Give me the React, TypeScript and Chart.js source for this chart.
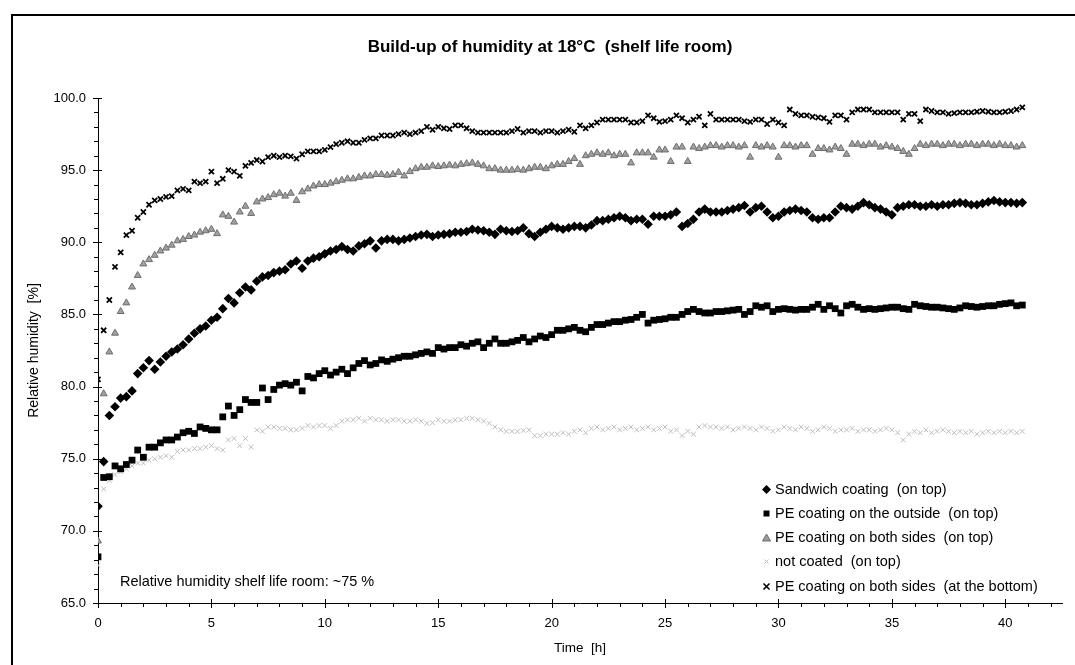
import React, { useEffect, useRef } from 'react';
import { Chart, registerables } from 'chart.js';

Chart.register(...registerables);

// ---------- data (time in hours, relative humidity in %) ----------
const times = [
  0, 0.25, 0.5, 0.75, 1, 1.25, 1.5, 1.75, 2, 2.25, 2.5, 2.75, 3, 3.25, 3.5, 3.75,
  4, 4.25, 4.5, 4.75, 5, 5.25, 5.5, 5.75, 6, 6.25, 6.5, 6.75, 7, 7.25, 7.5, 7.75,
  8, 8.25, 8.5, 8.75, 9, 9.25, 9.5, 9.75, 10, 10.25, 10.5, 10.75, 11, 11.25, 11.5, 11.75,
  12, 12.25, 12.5, 12.75, 13, 13.25, 13.5, 13.75, 14, 14.25, 14.5, 14.75, 15, 15.25, 15.5, 15.75,
  16, 16.25, 16.5, 16.75, 17, 17.25, 17.5, 17.75, 18, 18.25, 18.5, 18.75, 19, 19.25, 19.5, 19.75,
  20, 20.25, 20.5, 20.75, 21, 21.25, 21.5, 21.75, 22, 22.25, 22.5, 22.75, 23, 23.25, 23.5, 23.75,
  24, 24.25, 24.5, 24.75, 25, 25.25, 25.5, 25.75, 26, 26.25, 26.5, 26.75, 27, 27.25, 27.5, 27.75,
  28, 28.25, 28.5, 28.75, 29, 29.25, 29.5, 29.75, 30, 30.25, 30.5, 30.75, 31, 31.25, 31.5, 31.75,
  32, 32.25, 32.5, 32.75, 33, 33.25, 33.5, 33.75, 34, 34.25, 34.5, 34.75, 35, 35.25, 35.5, 35.75,
  36, 36.25, 36.5, 36.75, 37, 37.25, 37.5, 37.75, 38, 38.25, 38.5, 38.75, 39, 39.25, 39.5, 39.75,
  40, 40.25, 40.5, 40.75,
];

const sandwichOnTop = [
  71.7, 74.8, 78.0, 78.6, 79.2, 79.3, 79.7, 80.9, 81.3, 81.8, 81.2, 81.7, 82.1, 82.4, 82.6, 82.9,
  83.3, 83.7, 84.0, 84.2, 84.6, 84.8, 85.4, 86.1, 85.8, 86.5, 86.9, 86.7, 87.3, 87.6, 87.7, 87.9,
  88.0, 88.1, 88.5, 88.7, 88.2, 88.7, 88.9, 89.0, 89.2, 89.4, 89.5, 89.7, 89.5, 89.4, 89.75, 89.9,
  90.1, 89.6, 90.1, 90.2, 90.2, 90.1, 90.2, 90.3, 90.4, 90.5, 90.55, 90.4, 90.5, 90.55, 90.6, 90.7,
  90.7, 90.75, 90.9, 90.85, 90.8, 90.7, 90.55, 90.9, 90.8, 90.75, 90.8, 91.0, 90.6, 90.4, 90.7, 90.9,
  91.1, 91.0, 90.9, 91.0, 91.1, 91.1, 91.0, 91.2, 91.5, 91.5, 91.6, 91.7, 91.8, 91.7, 91.5, 91.6,
  91.6, 91.25, 91.8, 91.8, 91.8, 91.9, 92.1, 91.1, 91.3, 91.6, 92.1, 92.3, 92.1, 92.1, 92.1, 92.2,
  92.3, 92.4, 92.55, 92.1, 92.4, 92.5, 92.1, 91.7, 91.8, 92.1, 92.2, 92.3, 92.2, 92.1, 91.7, 91.6,
  91.7, 91.7, 92.1, 92.5, 92.4, 92.3, 92.5, 92.75, 92.6, 92.4, 92.3, 92.1, 91.9, 92.4, 92.5, 92.6,
  92.6, 92.5, 92.5, 92.6, 92.5, 92.6, 92.6, 92.7, 92.75, 92.7, 92.6, 92.6, 92.7, 92.8, 92.9, 92.8,
  92.75, 92.75, 92.7, 92.75,
];

const peOutsideOnTop = [
  68.2, 73.7, 73.75, 74.5, 74.3, 74.6, 74.9, 75.6, 75.1, 75.8, 75.8, 76.1, 76.3, 76.3, 76.5, 76.8,
  76.9, 76.75, 77.2, 77.1, 77.0, 77.0, 77.9, 78.65, 78.0, 78.4, 79.1, 78.9, 78.9, 79.9, 79.1, 79.8,
  80.1, 80.2, 80.1, 80.3, 79.7, 80.7, 80.6, 80.9, 81.1, 80.8, 81.0, 81.2, 80.9, 81.3, 81.6, 81.8,
  81.5, 81.6, 81.85, 81.75, 81.9, 82.0, 82.1, 82.1, 82.2, 82.3, 82.4, 82.3, 82.7, 82.6, 82.7, 82.7,
  82.9, 82.8, 83.0, 83.1, 82.7, 83.0, 83.3, 83.0, 83.0, 83.1, 83.2, 83.4, 83.1, 83.3, 83.5, 83.4,
  83.6, 83.9, 83.9, 84.0, 84.1, 83.9, 83.8, 84.1, 84.3, 84.3, 84.4, 84.5, 84.5, 84.6, 84.65, 84.8,
  85.0, 84.4, 84.6, 84.65, 84.7, 84.8, 84.8, 85.0, 85.2, 85.35, 85.2, 85.1, 85.1, 85.2, 85.2, 85.25,
  85.3, 85.35, 85.0, 85.2, 85.6, 85.5, 85.6, 85.2, 85.35, 85.4, 85.35, 85.3, 85.35, 85.35, 85.5, 85.7,
  85.35, 85.6, 85.4, 85.1, 85.6, 85.7, 85.5, 85.35, 85.4, 85.35, 85.4, 85.45, 85.5, 85.5, 85.4, 85.35,
  85.7, 85.6, 85.55, 85.5, 85.5, 85.45, 85.4, 85.35, 85.45, 85.6, 85.55, 85.5, 85.55, 85.6, 85.6, 85.7,
  85.75, 85.8, 85.6, 85.65,
];

const peBothSidesOnTop = [
  69.3, 79.5, 82.4, 83.7, 85.2, 85.8, 86.9, 87.7, 88.5, 88.8, 89.1, 89.4, 89.6, 89.8, 90.1, 90.2,
  90.4, 90.5, 90.7, 90.8, 90.9, 90.6, 91.9, 91.8, 91.4, 92.1, 92.5, 92.0, 92.8, 93.0, 93.1, 93.3,
  93.4, 93.2, 93.4, 92.9, 93.5, 93.7, 93.9, 94.0, 94.0, 94.1, 94.2, 94.3, 94.4, 94.4, 94.5, 94.6,
  94.6, 94.7, 94.7, 94.65, 94.7, 94.85, 94.6, 94.9, 95.1, 95.2, 95.2, 95.3, 95.25, 95.3, 95.35, 95.3,
  95.4, 95.45, 95.5, 95.4, 95.3, 95.1, 95.1, 95.0, 95.0, 95.0, 95.05, 95.0, 95.1, 95.2, 95.2, 95.1,
  95.3, 95.4, 95.4, 95.6, 95.8, 95.4, 96.0, 96.1, 96.2, 96.1, 96.2, 96.0, 96.1, 96.1, 95.5, 96.2,
  96.2, 96.2, 95.9, 96.4, 96.4, 95.6, 96.6, 96.6, 95.6, 96.6, 96.5, 96.6, 96.7, 96.7, 96.6, 96.7,
  96.7, 96.6, 96.7, 95.9, 96.7, 96.6, 96.7, 96.6, 95.9, 96.7, 96.7, 96.6, 96.7, 96.7, 96.1, 96.5,
  96.5, 96.4, 96.6, 96.5, 96.1, 96.8, 96.8, 96.7, 96.8, 96.8, 96.6, 96.7, 96.6, 96.5, 96.3, 96.1,
  96.5, 96.8, 96.7, 96.8, 96.8, 96.7, 96.8, 96.8, 96.7, 96.8, 96.8, 96.7, 96.8, 96.8, 96.7, 96.8,
  96.7, 96.7, 96.6, 96.7,
];

const notCoatedOnTop = [
  67.6, 72.9, 73.5, 73.9, 74.1, 74.3, 74.5, 74.7, 74.7, 74.9, 75.0, 75.1, 75.2, 75.1, 75.5, 75.6,
  75.6, 75.7, 75.7, 75.8, 75.9, 75.7, 75.6, 76.3, 76.4, 75.9, 76.4, 75.8, 77.0, 76.9, 77.2, 77.2,
  77.1, 77.1, 77.0, 77.0, 77.1, 77.3, 77.2, 77.3, 77.3, 77.1, 77.3, 77.6, 77.7, 77.7, 77.8, 77.6,
  77.8, 77.7, 77.7, 77.6, 77.7, 77.7, 77.6, 77.6, 77.7, 77.6, 77.45, 77.5, 77.7, 77.6, 77.6, 77.7,
  77.7, 77.8, 77.8, 77.7, 77.6, 77.45, 77.2, 77.0, 76.9, 76.9, 76.9, 76.95, 77.0, 76.6, 76.6, 76.7,
  76.7, 76.7, 76.8, 76.7, 76.9, 77.0, 76.8, 77.1, 77.2, 77.0, 77.1, 77.2, 77.0, 77.1, 77.2, 77.0,
  77.1, 77.2, 77.0, 77.1, 77.2, 76.9, 77.0, 76.6, 76.9, 76.7, 77.2, 77.3, 77.2, 77.2, 77.1, 77.2,
  77.0, 77.1, 77.2, 77.1, 77.0, 77.2, 77.1, 76.9, 77.0, 77.2, 77.1, 77.0, 77.2, 77.1, 76.9, 77.0,
  77.2, 77.1, 76.9, 77.0, 77.0, 77.1, 76.9, 77.0, 77.0, 76.9, 77.0, 77.1, 77.0, 76.8, 76.3, 76.7,
  76.9, 76.8, 77.0, 76.8, 76.9, 77.0, 76.9, 76.8, 76.9, 76.8, 76.9, 76.7, 76.8, 76.9, 76.8, 76.9,
  76.8, 76.9, 76.8, 76.9,
];

const peBothSidesBottom = [
  80.5, 83.9, 86.0, 88.3, 89.3, 90.5, 90.8, 91.7, 92.1, 92.6, 92.9, 93.0, 93.15, 93.2, 93.6, 93.7,
  93.6, 94.2, 94.1, 94.2, 94.9, 94.1, 94.4, 95.0, 94.9, 94.6, 95.3, 95.5, 95.7, 95.6, 95.9, 96.0,
  95.9, 96.0, 95.95, 95.8, 96.1, 96.3, 96.3, 96.3, 96.4, 96.6, 96.8, 96.9, 97.0, 96.9, 96.9, 97.1,
  97.2, 97.2, 97.4, 97.4, 97.4, 97.5, 97.6, 97.5, 97.6, 97.7, 98.0, 97.8, 98.0, 97.9, 97.85, 98.1,
  98.1, 97.9, 97.7, 97.6, 97.6, 97.6, 97.6, 97.6, 97.6, 97.7, 97.85, 97.6, 97.7, 97.7, 97.6, 97.7,
  97.7, 97.6, 97.7, 97.8, 97.66, 98.1, 97.9, 98.1, 98.3, 98.5, 98.5, 98.5, 98.5, 98.5, 98.3, 98.3,
  98.4, 98.8, 98.6, 98.35, 98.4, 98.5, 98.8, 98.6, 98.3, 98.5, 98.7, 98.1, 98.9, 98.5, 98.5, 98.5,
  98.5, 98.5, 98.4, 98.35, 98.5, 98.5, 98.2, 98.5, 98.3, 98.1, 99.2, 98.9, 98.8, 98.8, 98.7, 98.65,
  98.6, 98.35, 98.8, 98.8, 98.5, 99.0, 99.2, 99.2, 99.2, 99.0, 99.0, 99.0, 99.0, 99.0, 98.5, 98.9,
  98.9, 98.4, 99.2, 99.1, 99.0, 99.0, 98.9, 98.95, 99.0, 99.0, 99.0, 99.05, 99.1, 99.05, 99.0, 99.0,
  99.05, 99.1, 99.2, 99.35,
];

const seriesLabels = [
  'Sandwich coating  (on top)',
  'PE coating on the outside  (on top)',
  'PE coating on both sides  (on top)',
  'not coated  (on top)',
  'PE coating on both sides  (at the bottom)',
];

const titleText = 'Build-up of humidity at 18°C  (shelf life room)';
const xTitle = 'Time  [h]';
const yTitle = 'Relative humidity  [%]';
const noteText = 'Relative humidity shelf life room: ~75 %';

const FONT = "'Liberation Sans', Arial, sans-serif";

const tickMarks = {
  id: 'tickMarks',
  afterDraw(chart: any) {
    const { ctx, chartArea, scales } = chart;
    const xs = scales.x;
    const ys = scales.y;
    ctx.save();
    ctx.strokeStyle = '#000';
    ctx.lineWidth = 1;
    ctx.beginPath();
    for (let v = Math.ceil(xs.min); v <= xs.max; v++) {
      const px = Math.round(xs.getPixelForValue(v)) + 0.5;
      if (v % 5 === 0) {
        ctx.moveTo(px, chartArea.bottom - 4);
        ctx.lineTo(px, chartArea.bottom + 5);
      } else {
        ctx.moveTo(px, chartArea.bottom);
        ctx.lineTo(px, chartArea.bottom + 4);
      }
    }
    for (let v = Math.ceil(ys.min); v <= ys.max; v++) {
      const py = Math.round(ys.getPixelForValue(v)) + 0.5;
      if (v % 5 === 0) {
        ctx.moveTo(chartArea.left - 5, py);
        ctx.lineTo(chartArea.left + 4, py);
      } else {
        ctx.moveTo(chartArea.left - 4, py);
        ctx.lineTo(chartArea.left, py);
      }
    }
    ctx.stroke();
    ctx.restore();
  },
};

function Marker({ kind }: { kind: number }) {
  const s = 9;
  let el: any = null;
  if (kind === 0) el = <polygon points="4.5,0 9,4.5 4.5,9 0,4.5" fill="#000" />;
  else if (kind === 1) el = <rect x="1.5" y="1.5" width="6" height="6" fill="#000" />;
  else if (kind === 2) el = <polygon points="4.5,1 8.5,8 0.5,8" fill="#9a9a9a" stroke="#6e6e6e" strokeWidth="1" />;
  else if (kind === 3)
    el = (
      <g stroke="#bdbdbd" strokeWidth="1">
        <line x1="2.5" y1="2.5" x2="6.5" y2="6.5" />
        <line x1="6.5" y1="2.5" x2="2.5" y2="6.5" />
      </g>
    );
  else
    el = (
      <g stroke="#000" strokeWidth="1.6">
        <line x1="1.5" y1="1.5" x2="7.5" y2="7.5" />
        <line x1="7.5" y1="1.5" x2="1.5" y2="7.5" />
      </g>
    );
  return (
    <svg width={s} height={s} style={{ display: 'block' }}>
      {el}
    </svg>
  );
}

export default function App() {
  const ref = useRef<HTMLCanvasElement>(null);

  useEffect(() => {
    if (!ref.current) return;
    const mk = (arr: number[]) => times.map((t, i) => ({ x: t, y: arr[i] }));
    const chart = new Chart(ref.current, {
      type: 'scatter',
      data: {
        datasets: [
          {
            label: seriesLabels[0],
            data: mk(sandwichOnTop),
            pointStyle: 'rectRot',
            pointRadius: 4.8,
            backgroundColor: '#000',
            borderColor: '#000',
            borderWidth: 0,
          },
          {
            label: seriesLabels[1],
            data: mk(peOutsideOnTop),
            pointStyle: 'rect',
            pointRadius: 4.8,
            backgroundColor: '#000',
            borderColor: '#000',
            borderWidth: 0,
          },
          {
            label: seriesLabels[2],
            data: mk(peBothSidesOnTop),
            pointStyle: 'triangle',
            pointRadius: 4,
            backgroundColor: '#a0a0a0',
            borderColor: '#6e6e6e',
            borderWidth: 1,
          },
          {
            label: seriesLabels[3],
            data: mk(notCoatedOnTop),
            pointStyle: 'crossRot',
            pointRadius: 3.4,
            backgroundColor: '#bdbdbd',
            borderColor: '#bdbdbd',
            borderWidth: 1,
          },
          {
            label: seriesLabels[4],
            data: mk(peBothSidesBottom),
            pointStyle: 'crossRot',
            pointRadius: 3.6,
            backgroundColor: '#000',
            borderColor: '#000',
            borderWidth: 1.8,
          },
        ],
      },
      options: {
        responsive: false,
        animation: false,
        events: [],
        layout: { padding: { top: 98, right: 13, left: 0, bottom: 0 } },
        plugins: {
          legend: { display: false },
          title: { display: false },
          tooltip: { enabled: false },
        },
        scales: {
          x: {
            type: 'linear',
            min: 0,
            max: 42.5,
            afterFit: (s: any) => {
              s.height = 62;
            },
            grid: { display: false, drawTicks: false },
            border: { display: true, color: '#000', width: 1 },
            ticks: {
              stepSize: 5,
              autoSkip: false,
              maxRotation: 0,
              includeBounds: false,
              padding: 13,
              color: '#000',
              font: { family: FONT, size: 13 },
              callback: (v: any) => (Number(v) % 5 === 0 ? String(v) : ''),
            },
            title: {
              display: true,
              text: xTitle,
              color: '#000',
              font: { family: FONT, size: 13.5 },
              padding: { top: 0, bottom: 9 },
            },
          },
          y: {
            type: 'linear',
            min: 65,
            max: 100,
            afterFit: (s: any) => {
              s.width = 98;
            },
            grid: { display: false, drawTicks: false },
            border: { display: true, color: '#000', width: 1 },
            ticks: {
              stepSize: 5,
              autoSkip: false,
              padding: 12,
              color: '#000',
              font: { family: FONT, size: 13 },
              callback: (v: any) => Number(v).toFixed(1),
            },
            title: {
              display: true,
              text: yTitle,
              color: '#000',
              font: { family: FONT, size: 14 },
              padding: { top: 26, bottom: 0 },
            },
          },
        },
      } as any,
      plugins: [tickMarks],
    });
    return () => chart.destroy();
  }, []);

  const legendTops = [489, 513, 537, 561, 586];

  return (
    <div
      style={{
        position: 'fixed',
        left: 0,
        top: 0,
        width: 1075,
        height: 665,
        overflow: 'hidden',
        background: '#fff',
        fontFamily: FONT,
        color: '#000',
      }}
    >
      <div
        style={{
          position: 'absolute',
          left: 11,
          top: 14,
          width: 1200,
          height: 800,
          borderLeft: '2px solid #000',
          borderTop: '2px solid #000',
        }}
      />
      <canvas ref={ref} width={1075} height={665} style={{ position: 'absolute', left: 0, top: 0 }} />
      <div
        style={{
          position: 'absolute',
          left: 0,
          width: 1100,
          top: 36,
          lineHeight: '22px',
          textAlign: 'center',
          fontWeight: 'bold',
          fontSize: 17,
          whiteSpace: 'pre',
        }}
      >
        {titleText}
      </div>
      <div
        style={{
          position: 'absolute',
          left: 120,
          top: 581 - 9,
          lineHeight: '18px',
          fontSize: 14.5,
          whiteSpace: 'pre',
        }}
      >
        {noteText}
      </div>
      {seriesLabels.map((lab, i) => (
        <div
          key={i}
          style={{
            position: 'absolute',
            left: 762,
            top: legendTops[i] - 9,
            height: 18,
            display: 'flex',
            alignItems: 'center',
            fontSize: 14.5,
            whiteSpace: 'pre',
          }}
        >
          <Marker kind={i} />
          <span style={{ marginLeft: 4 }}>{lab}</span>
        </div>
      ))}
    </div>
  );
}
